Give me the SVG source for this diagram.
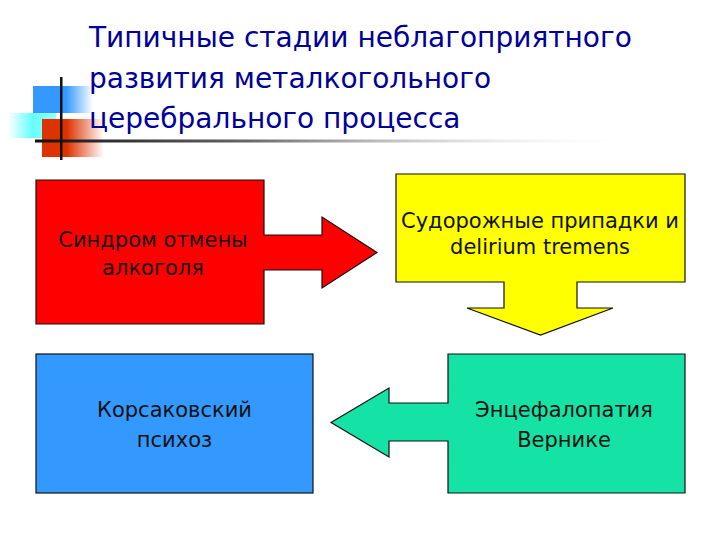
<svg xmlns="http://www.w3.org/2000/svg" width="720" height="540" viewBox="0 0 720 540">
<defs>
<style>
.shape{stroke:#111;stroke-width:1.2;stroke-linejoin:miter}
.lbl{font-family:"DejaVu Sans","Liberation Sans",sans-serif;font-size:21px;fill:#111;text-anchor:middle}
.ttl{font-family:"DejaVu Sans","Liberation Sans",sans-serif;font-size:28px;fill:#000099}
</style>
<linearGradient id="gBlue" x1="0" y1="0" x2="1" y2="0">
<stop offset="0" stop-color="#3399FF"/><stop offset="0.55" stop-color="#3399FF"/><stop offset="1" stop-color="#3399FF" stop-opacity="0"/>
</linearGradient>
<linearGradient id="gCyan" x1="0" y1="0" x2="1" y2="0">
<stop offset="0" stop-color="#66FFFF" stop-opacity="0"/><stop offset="0.5" stop-color="#66FFFF"/><stop offset="1" stop-color="#99FFFF"/>
</linearGradient>
<linearGradient id="gRed" x1="0" y1="0" x2="1" y2="0">
<stop offset="0" stop-color="#DD3300"/><stop offset="0.4" stop-color="#DD3300"/><stop offset="1" stop-color="#DD3300" stop-opacity="0"/>
</linearGradient>
<linearGradient id="gLine" x1="35" y1="0" x2="640" y2="0" gradientUnits="userSpaceOnUse">
<stop offset="0" stop-color="#111"/><stop offset="0.35" stop-color="#666"/><stop offset="1" stop-color="#fff" stop-opacity="0"/>
</linearGradient>
</defs>
<rect width="720" height="540" fill="#fff"/>
<g id="logo">
<rect x="33" y="86" width="60" height="27" fill="url(#gBlue)"/>
<rect x="8" y="113" width="48" height="25" fill="url(#gCyan)"/>
<rect x="42" y="119" width="62" height="38" fill="url(#gRed)"/>
<rect x="35" y="139.5" width="605" height="3" fill="url(#gLine)"/>
<rect x="60" y="77" width="2.5" height="83" fill="#111"/>
</g>
<g id="title">
<text class="ttl" x="89" y="47">Типичные стадии неблагоприятного</text>
<text class="ttl" x="89" y="88">развития металкогольного</text>
<text class="ttl" x="89" y="128">церебрального процесса</text>
</g>
<g id="connectors"></g>
<g id="node-withdrawal">
<path class="shape" fill="#FF0000" d="M36,180 H264 V235 H322 V217 L377,252.5 L322,288 V270 H264 V324 H36 Z"/>
<text class="lbl" x="153" y="247">Синдром отмены</text>
<text class="lbl" x="153" y="275">алкоголя</text>
</g>
<g id="node-seizures">
<path class="shape" fill="#FFFF00" d="M396,174 H685 V282 H577 V308 H613 L540.5,335 L467,308 H504 V282 H396 Z"/>
<text class="lbl" x="540" y="228">Судорожные припадки и</text>
<text class="lbl" x="540" y="254">delirium tremens</text>
</g>
<g id="node-wernicke">
<path class="shape" fill="#14E3A5" d="M448,354 H685 V493 H448 V441 H389 V457 L331,422.5 L389,388 V403 H448 Z"/>
<text class="lbl" x="564" y="417">Энцефалопатия</text>
<text class="lbl" x="564" y="447">Вернике</text>
</g>
<g id="node-korsakoff">
<rect class="shape" x="36" y="354" width="277" height="139" fill="#3399FF"/>
<text class="lbl" x="174.5" y="417">Корсаковский</text>
<text class="lbl" x="174.5" y="447">психоз</text>
</g>
</svg>
